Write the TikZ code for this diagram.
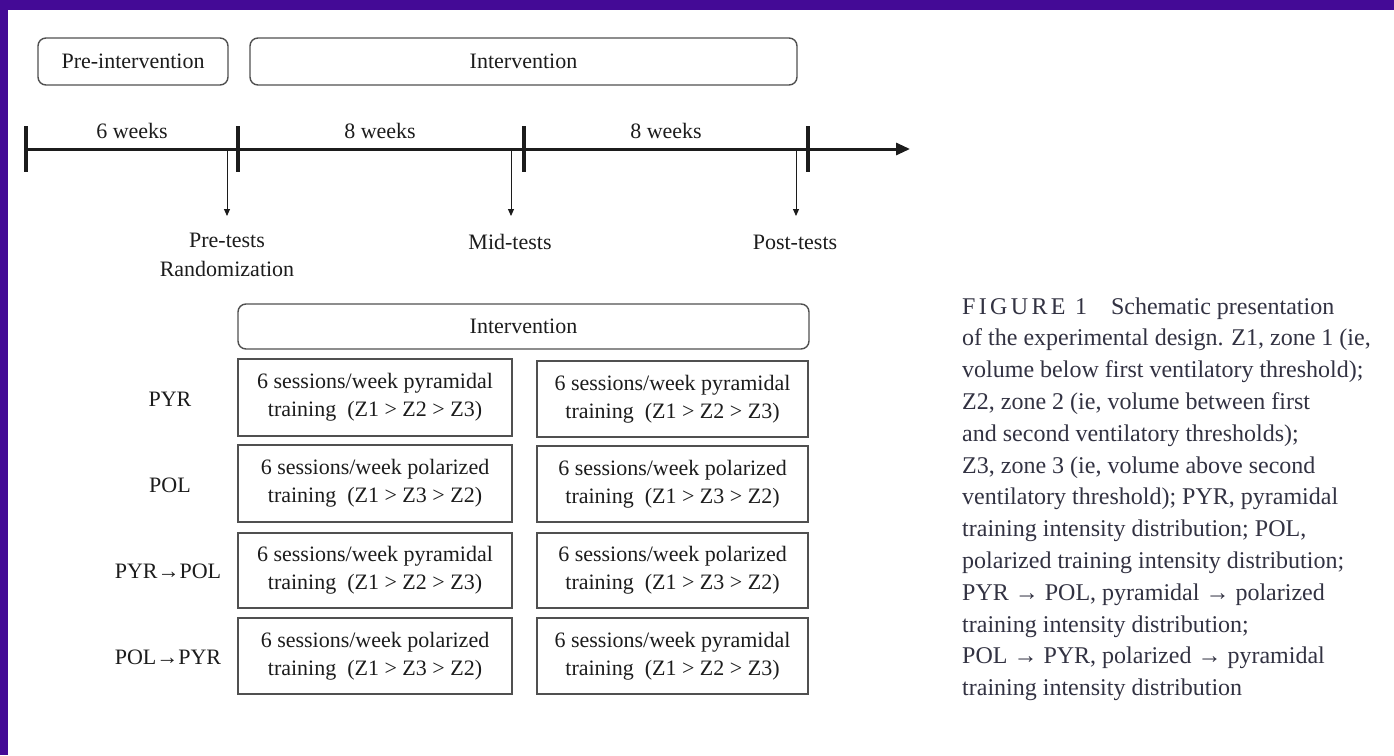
\documentclass[tikz,border=0pt]{standalone}
\usepackage{fontspec}
\setmainfont{Liberation Serif}
\usetikzlibrary{arrows.meta}
\definecolor{frame}{RGB}{68,10,150}
\definecolor{captext}{RGB}{50,50,66}
\definecolor{boxline}{RGB}{80,80,80}
\definecolor{ink}{RGB}{28,28,28}

\begin{document}
\begin{tikzpicture}[x=1pt,y=-1pt,
  txt/.style={font=\fontsize{22}{28}\selectfont, text=ink, inner sep=0pt},
  phase/.style={txt, draw=boxline, line width=1.4pt, rounded corners=8pt},
  plan/.style={txt, draw=boxline, line width=1.4pt, align=center},
  axis/.style={line width=3pt, draw=ink, -{Triangle[length=14pt,width=12pt]}},
  tickmark/.style={line width=3.5pt, draw=ink},
  marker/.style={line width=1pt, draw=ink, -{Triangle[length=7pt,width=6pt]}},
  capline/.style={anchor=base west, inner sep=0pt,
    font=\fontsize{24}{31.8}\selectfont, text=captext}
]
% frame and canvas
\fill[frame] (0,0) rectangle (1394,755);
\fill[white] (7.5,10) rectangle (1394,755);
\useasboundingbox (0,0) rectangle (1394,755);

% phase headers
\node[phase, minimum width=190pt, minimum height=47pt] (pre) at (133,61.5) {Pre-intervention};
\node[phase, minimum width=547pt, minimum height=47pt] (int) at (523.5,61.5) {Intervention};

% time axis
\coordinate (k0) at (26,149);
\coordinate (k1) at (238,149);
\coordinate (k2) at (524,149);
\coordinate (k3) at (808,149);
\coordinate (kend) at (910,149);
\draw[axis] (k0) -- (kend);
\foreach \k in {k0,k1,k2,k3}
  \draw[tickmark] (\k) ++(0,-23) -- ++(0,46);

\node[txt, anchor=base] (w1) at (132,138) {6 weeks};
\node[txt, anchor=base] (w2) at (380,138) {8 weeks};
\node[txt, anchor=base] (w3) at (666,138) {8 weeks};

% test moments
\coordinate (m1) at (227,150);
\coordinate (m2) at (511,150);
\coordinate (m3) at (796,150);
\draw[marker] (m1) -- ++(0,66);
\draw[marker] (m2) -- ++(0,66);
\draw[marker] (m3) -- ++(0,66);
\node[txt, align=center, anchor=north, font=\fontsize{22}{29}\selectfont] (pt) at (227,233) {Pre-tests\\Randomization};
\node[txt, anchor=base] (mt) at (510,249) {Mid-tests};
\node[txt, anchor=base] (po) at (795,249) {Post-tests};

% intervention plan
\node[phase, minimum width=571pt, minimum height=45pt] (int2) at (523.5,326.5) {Intervention};

\node[plan, minimum width=274pt, minimum height=77pt] (a1) at (375,397.5) {6 sessions/week pyramidal\\training\ \ (Z1 > Z2 > Z3)};
\node[plan, minimum width=271pt, minimum height=76pt] (b1) at (672.5,399) {6 sessions/week pyramidal\\training\ \ (Z1 > Z2 > Z3)};
\node[plan, minimum width=274pt, minimum height=77pt] (a2) at (375,483.5) {6 sessions/week polarized\\training\ \ (Z1 > Z3 > Z2)};
\node[plan, minimum width=271pt, minimum height=76pt] (b2) at (672.5,484) {6 sessions/week polarized\\training\ \ (Z1 > Z3 > Z2)};
\node[plan, minimum width=274pt, minimum height=75pt] (a3) at (375,570.5) {6 sessions/week pyramidal\\training\ \ (Z1 > Z2 > Z3)};
\node[plan, minimum width=271pt, minimum height=75pt] (b3) at (672.5,570.5) {6 sessions/week polarized\\training\ \ (Z1 > Z3 > Z2)};
\node[plan, minimum width=274pt, minimum height=76pt] (a4) at (375,656) {6 sessions/week polarized\\training\ \ (Z1 > Z3 > Z2)};
\node[plan, minimum width=271pt, minimum height=76pt] (b4) at (672.5,656) {6 sessions/week pyramidal\\training\ \ (Z1 > Z2 > Z3)};

\node[txt] (g1) at (170,399) {PYR};
\node[txt] (g2) at (170,485) {POL};
\node[txt] (g3) at (168,571) {PYR→POL};
\node[txt] (g4) at (168,657) {POL→PYR};

% caption
\foreach \line [count=\i] in {
  {{\addfontfeature{LetterSpace=14}FIGURE 1}\quad Schematic presentation},
  {of the experimental design. Z1, zone 1 (ie,},
  {volume below first ventilatory threshold);},
  {Z2, zone 2 (ie, volume between first},
  {and second ventilatory thresholds);},
  {Z3, zone 3 (ie, volume above second},
  {ventilatory threshold); PYR, pyramidal},
  {training intensity distribution; POL,},
  {polarized training intensity distribution;},
  {PYR → POL, pyramidal → polarized},
  {training intensity distribution;},
  {POL → PYR, polarized → pyramidal},
  {training intensity distribution}}
  \node[capline] (cap\i) at (962,{314+31.8*(\i-1)}) {\line};
\end{tikzpicture}
\end{document}
